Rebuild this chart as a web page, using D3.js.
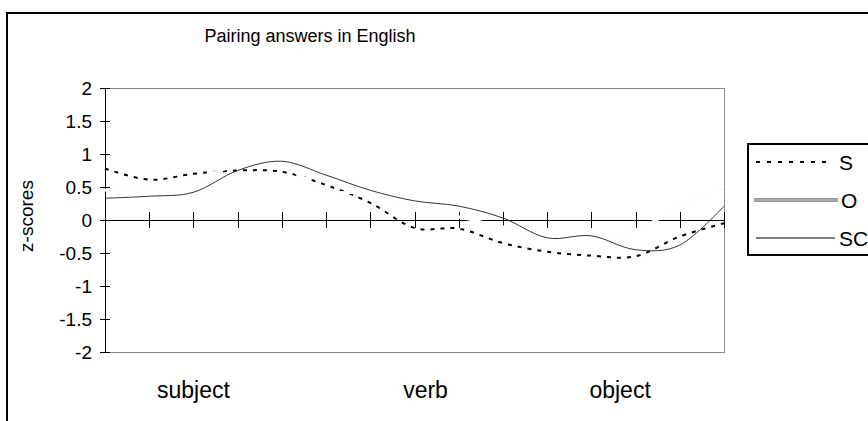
<!DOCTYPE html>
<html>
  <meta charset="utf-8">
  <style>
  body { margin: 0; background: #fff; }
  text { font-family: Arial, "Liberation Sans", sans-serif; fill: #000; }
  .axis path, .axis line { stroke: #000; shape-rendering: crispEdges; }
  </style>
  <head>
    <script src="https://d3js.org/d3.v7.min.js"></script>
  </head>
  <body>
    <script>
      // 15 positions along the sentence, three groups labelled under the axis
      var points = [1, 2, 3, 4, 5, 6, 7, 8, 9, 10, 11, 12, 13, 14, 15];
      var groupLabels = ["subject", "verb", "object"];
      var groupAt = [3, 8.25, 12.65];
      var yTicks = [-2, -1.5, -1, -0.5, 0, 0.5, 1, 1.5, 2];

      var seriesNames = ["S", "O", "SC"];
      var sValues  = [0.78, 0.61, 0.70, 0.75, 0.73, 0.53, 0.26, -0.12, -0.13, -0.35, -0.48, -0.54, -0.55, -0.25, -0.05];
      var oValues  = [0.45, 0.55, 0.62, 0.82, 0.82, 0.45, 0.40, 0.20, 0.05, -0.10, -0.20, -0.25, -0.15, 0.20, 0.52];
      var scValues = [0.33, 0.36, 0.42, 0.75, 0.89, 0.68, 0.45, 0.29, 0.21, 0.03, -0.27, -0.24, -0.45, -0.38, 0.21];

      var width = 868,
          height = 421;

      var svg = d3.select("body").append("svg")
          .attr("width", width)
          .attr("height", height);

      // outer chart frame (runs off the right / bottom edge)
      svg.append("rect")
          .attr("x", 7).attr("y", 13)
          .attr("width", 900).attr("height", 450)
          .attr("fill", "none").attr("stroke", "#000").attr("stroke-width", 2);

      svg.append("text")
          .attr("x", 310).attr("y", 42)
          .attr("text-anchor", "middle")
          .style("font-size", "18px")
          .text("Pairing answers in English");

      var x = d3.scaleLinear().domain([1, 15]).range([105, 724]),
          y = d3.scaleLinear().domain([-2, 2]).range([352, 88]);

      // plot area box, grey
      svg.append("rect")
          .attr("x", x(1)).attr("y", y(2))
          .attr("width", x(15) - x(1)).attr("height", y(-2) - y(2))
          .attr("fill", "none").attr("stroke", "#888").attr("stroke-width", 1)
          .attr("shape-rendering", "crispEdges");

      var yAxis = svg.append("g")
          .attr("class", "axis")
          .attr("transform", "translate(" + x(1) + ",0)")
          .call(d3.axisLeft(y).tickValues(yTicks).tickSize(5).tickPadding(8)
            .tickFormat(function(d) { return String(d); }));
      yAxis.selectAll(".tick line").attr("x1", 5);
      yAxis.selectAll(".tick text").style("font-size", "19px");
      yAxis.select(".domain").attr("d", "M0," + y(2) + "V" + y(-2));

      var xAxis = svg.append("g")
          .attr("class", "axis")
          .attr("transform", "translate(0," + y(0) + ")")
          .call(d3.axisBottom(x).tickValues(points).tickSize(8).tickFormat(""));
      xAxis.selectAll(".tick line").attr("y1", -8);
      xAxis.select(".domain").attr("d", "M" + x(1) + ",0H" + x(15));

      svg.append("text")
          .attr("transform", "translate(33," + (y(0) - 4) + ") rotate(-90)")
          .attr("text-anchor", "middle")
          .style("font-size", "19px")
          .text("z-scores");

      svg.selectAll(".group")
          .data(groupLabels)
          .enter().append("text")
          .attr("class", "group")
          .attr("x", function(d, i) { return x(groupAt[i]); })
          .attr("y", 398)
          .attr("text-anchor", "middle")
          .style("font-size", "23px")
          .text(function(d) { return d; });

      var line = d3.line()
          .x(function(d, i) { return x(points[i]); })
          .y(function(d) { return y(d); })
          .curve(d3.curveCardinal.tension(0));

      svg.append("path")
          .datum(sValues)
          .attr("d", line)
          .attr("fill", "none").attr("stroke", "#000")
          .attr("stroke-width", 2).attr("stroke-dasharray", "4,6");

      // O is drawn almost white: only shows as gaps where it crosses other lines
      svg.append("path")
          .datum(oValues)
          .attr("d", line)
          .attr("fill", "none").attr("stroke", "#fefefe")
          .attr("stroke-width", 3);

      svg.append("path")
          .datum(scValues)
          .attr("d", line)
          .attr("fill", "none").attr("stroke", "#333")
          .attr("stroke-width", 1);

      // legend
      var legend = svg.append("g");
      legend.append("rect")
          .attr("x", 748).attr("y", 144)
          .attr("width", 140).attr("height", 111)
          .attr("fill", "#fff").attr("stroke", "#000").attr("stroke-width", 2);

      var legendY = d3.scalePoint().domain(seriesNames).range([162, 238]);

      legend.append("line")
          .attr("x1", 756).attr("x2", 832)
          .attr("y1", legendY("S")).attr("y2", legendY("S"))
          .attr("stroke", "#000").attr("stroke-width", 2).attr("stroke-dasharray", "4,7");
      legend.append("line")
          .attr("x1", 754).attr("x2", 838)
          .attr("y1", legendY("O")).attr("y2", legendY("O"))
          .attr("stroke", "#9a9a9a").attr("stroke-width", 4);
      legend.append("line")
          .attr("x1", 754).attr("x2", 838)
          .attr("y1", legendY("O")).attr("y2", legendY("O"))
          .attr("stroke", "#d0d0d0").attr("stroke-width", 1).attr("stroke-dasharray", "1,1");
      legend.append("line")
          .attr("x1", 756).attr("x2", 835)
          .attr("y1", legendY("SC")).attr("y2", legendY("SC"))
          .attr("stroke", "#000").attr("stroke-width", 1);

      legend.selectAll(".lab")
          .data(seriesNames)
          .enter().append("text")
          .attr("class", "lab")
          .attr("x", function(d) { return d == "O" ? 841 : 839; })
          .attr("y", function(d) { return legendY(d); })
          .attr("dy", "0.36em")
          .style("font-size", "21px")
          .text(function(d) { return d; });
    </script>
  </body>
</html>
